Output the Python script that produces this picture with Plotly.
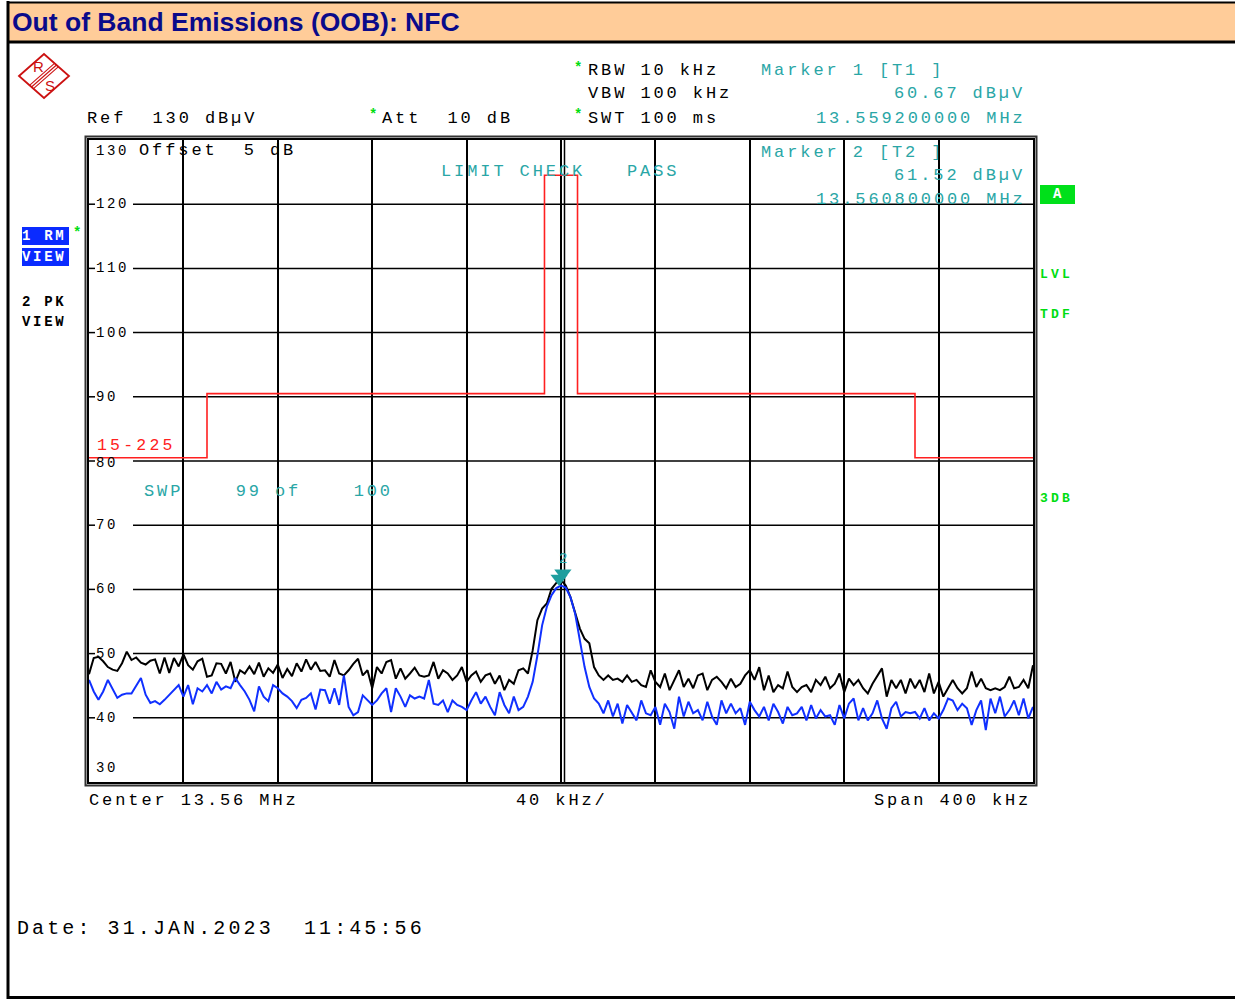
import json
import numpy as np
import plotly.graph_objects as go

# ---------------- data ----------------
F_START, F_STOP = 13.36, 13.76          # MHz (center 13.56, span 400 kHz)
LEVEL_MIN, LEVEL_MAX = 30, 130           # dBuV

# Trace 2 (PK, black) dBuV, 2 kHz steps
pk_trace = [
    46.8, 49.3, 49.5, 48.8, 47.9, 47.5, 47.3, 48.5, 50.3, 49.0,
    49.4, 48.6, 48.3, 48.9, 49.1, 46.9, 49.4, 47.0, 49.3, 48.0,
    49.9, 48.2, 47.5, 48.8, 49.2, 46.4, 46.6, 48.5, 48.4, 46.9,
    48.7, 45.6, 47.4, 46.9, 48.0, 46.8, 48.6, 46.4, 47.7, 47.0,
    48.3, 46.2, 47.6, 46.5, 48.5, 47.2, 49.1, 47.5, 48.7, 47.3,
    47.4, 46.4, 49.0, 46.9, 46.6, 47.4, 48.4, 49.2, 46.6, 47.4,
    44.6, 47.9, 46.9, 48.7, 49.0, 46.1, 47.7, 46.1, 46.9, 47.8,
    46.6, 46.4, 46.6, 48.7, 46.1, 47.4, 46.9, 45.9, 46.6, 47.9,
    45.6, 46.6, 47.2, 45.6, 46.6, 46.9, 45.3, 46.6, 44.3, 45.9,
    45.3, 47.4, 47.7, 46.9, 50.5, 55.2, 57.0, 57.8, 60.1, 61.0,
    61.5, 60.6, 58.8, 56.5, 53.9, 52.3, 51.6, 47.9, 46.6, 45.9,
    46.6, 45.9, 46.1, 45.6, 46.6, 45.6, 45.9, 45.1, 44.8, 47.4,
    45.6, 44.8, 46.9, 44.3, 45.9, 47.4, 44.8, 46.1, 44.6, 46.6,
    46.9, 44.3, 45.9, 46.4, 45.6, 44.6, 46.1, 44.8, 45.3, 46.6,
    47.4, 45.9, 47.9, 44.3, 46.6, 44.0, 45.1, 44.6, 47.2, 44.8,
    44.0, 44.8, 45.1, 44.0, 45.9, 45.1, 46.4, 44.6, 45.3, 46.9,
    44.0, 46.1, 45.1, 45.9, 44.6, 43.8, 45.3, 46.4, 47.7, 43.3,
    45.9, 44.6, 45.9, 43.8, 46.1, 44.6, 45.9, 44.0, 46.9, 43.8,
    45.6, 43.3, 44.6, 45.9, 44.6, 43.8, 44.6, 47.2, 44.8, 46.1,
    44.6, 44.3, 44.6, 44.3, 44.8, 46.4, 44.6, 44.8, 45.9, 44.6,
    48.2,
]

# Trace 1 (RM, blue) dBuV, 2 kHz steps
rm_trace = [
    45.9, 44.1, 42.8, 44.1, 45.9, 44.4, 43.1, 43.6, 43.8, 43.8,
    44.9, 46.2, 43.6, 42.3, 42.6, 42.1, 42.8, 43.6, 44.4, 45.1,
    43.3, 45.1, 42.1, 44.6, 44.1, 45.1, 43.8, 45.6, 44.4, 44.9,
    44.6, 46.2, 45.1, 44.1, 42.8, 41.0, 44.9, 43.3, 42.6, 45.1,
    44.6, 43.8, 43.3, 42.6, 41.5, 42.8, 43.1, 43.8, 41.3, 44.4,
    44.3, 42.2, 44.6, 42.0, 46.6, 41.7, 40.4, 40.9, 43.5, 42.7,
    42.0, 42.7, 43.8, 44.6, 40.9, 44.6, 43.3, 41.7, 43.5, 43.0,
    43.3, 43.0, 45.9, 42.2, 42.0, 42.7, 40.9, 42.7, 42.0, 41.7,
    41.2, 42.7, 44.0, 42.2, 43.3, 41.7, 40.4, 44.0, 42.0, 40.7,
    43.3, 41.2, 41.7, 43.3, 45.6, 49.7, 54.4, 57.3, 59.1, 60.2,
    60.6, 60.3, 58.8, 56.2, 51.8, 47.9, 44.8, 43.0, 42.2, 40.7,
    42.7, 40.2, 42.2, 39.1, 42.0, 40.9, 39.6, 42.7, 40.7, 40.4,
    41.7, 38.9, 42.2, 40.9, 38.3, 43.3, 40.2, 42.5, 40.7, 41.2,
    39.6, 42.5, 40.2, 38.9, 42.7, 40.7, 42.2, 40.7, 41.5, 38.9,
    42.5, 41.2, 40.2, 41.7, 39.6, 42.2, 40.9, 39.1, 41.7, 40.4,
    40.7, 41.7, 39.6, 42.0, 39.9, 41.2, 40.2, 40.4, 38.9, 42.0,
    39.9, 42.2, 43.0, 39.6, 41.5, 39.6, 40.7, 42.7, 39.9, 38.3,
    41.5, 42.5, 40.2, 40.9, 40.7, 40.9, 39.9, 41.5, 39.6, 40.7,
    39.9, 41.2, 43.0, 42.7, 41.2, 42.2, 41.5, 38.9, 41.2, 42.7,
    38.1, 43.0, 40.7, 43.3, 40.2, 41.2, 42.7, 40.4, 43.0, 39.9,
    41.7,
]

# Limit line "15-225"
limit_freq = [13.36, 13.41, 13.553, 13.567, 13.71, 13.76]
limit_level = [80.5, 90.5, 124.5, 90.5, 80.5, 80.5]

# Markers
marker_freq = [13.5592, 13.5608]
marker_level = [60.67, 61.52]
marker_names = ["1", "2"]

y_tick_values = [130, 120, 110, 100, 90, 80, 70, 60, 50, 40, 30]
y_tick_labels = ["130", "120", "110", "100", "90", "80", "70", "60", "50", "40", "30"]

freq = np.linspace(F_START, F_STOP, len(pk_trace))

# ---------------- layout constants ----------------
W, H = 1235, 1000
X0, X1, Y0, Y1 = 89, 1033, 140, 782     # plot area in pixels
MONO = "Liberation Mono"
SANS = "Liberation Sans"
TEAL = "#2AA6A6"
GREEN = "#00DD11"
RED = "#FF2020"
BLUE = "#0A2BFF"


def px(x, y):
    return x / W, 1 - y / H


def ypix(v):
    return Y1 - (v - LEVEL_MIN) * (Y1 - Y0) / (LEVEL_MAX - LEVEL_MIN)


def xdata(xp):
    return F_START + (xp - X0) * (F_STOP - F_START) / (X1 - X0)


annotations = []
spacing = []


def text(x, y, s, color="black", size=17, ls=2.9, family=MONO, bold=False,
         xanchor="left"):
    ax, ay = px(x, y)
    annotations.append(dict(
        x=ax, y=ay, xref="paper", yref="paper", text=s, showarrow=False,
        xanchor=xanchor, yanchor="middle", align="left", borderpad=0,
        borderwidth=0,
        font=dict(family=family, size=size, color=color,
                  weight="bold" if bold else "normal")))
    spacing.append(ls)


shapes = []


def rect(x0, y0, x1, y1, fill=None, line_color=None, lw=0, layer="above"):
    a0, b0 = px(x0, y0)
    a1, b1 = px(x1, y1)
    shapes.append(dict(type="rect", xref="paper", yref="paper",
                       x0=a0, y0=b0, x1=a1, y1=b1, layer=layer,
                       fillcolor=fill if fill else "rgba(0,0,0,0)",
                       line=dict(color=line_color if line_color else "rgba(0,0,0,0)",
                                 width=lw)))


def seg(x0, y0, x1, y1, color="black", lw=1, layer="above"):
    a0, b0 = px(x0, y0)
    a1, b1 = px(x1, y1)
    shapes.append(dict(type="line", xref="paper", yref="paper",
                       x0=a0, y0=b0, x1=a1, y1=b1, layer=layer,
                       line=dict(color=color, width=lw)))


def path(points, color, lw, fill=None):
    d = ""
    for k, (x, y) in enumerate(points):
        a, b = px(x, y)
        d += ("M" if k == 0 else "L") + f"{a:.5f},{b:.5f} "
    d += "Z"
    shapes.append(dict(type="path", xref="paper", yref="paper", path=d,
                       fillcolor=fill if fill else "rgba(0,0,0,0)",
                       line=dict(color=color, width=lw)))


# ---------------- figure ----------------
fig = go.Figure()

fig.add_trace(go.Scatter(x=limit_freq, y=limit_level, mode="lines",
                         line=dict(color=RED, width=1.6, shape="hv"),
                         hoverinfo="skip"))
fig.add_trace(go.Scatter(x=freq, y=pk_trace, mode="lines",
                         line=dict(color="black", width=2), name="2 PK"))
fig.add_trace(go.Scatter(x=freq, y=rm_trace, mode="lines",
                         line=dict(color="#1030FF", width=2), name="1 RM"))
tri_offset = (LEVEL_MAX - LEVEL_MIN) * 6.5 / (Y1 - Y0)
fig.add_trace(go.Scatter(x=marker_freq,
                         y=[v + tri_offset for v in marker_level],
                         mode="markers",
                         marker=dict(symbol="triangle-down", size=15,
                                     color="#1E9E9E"),
                         hoverinfo="skip"))

# page frame and title band
rect(7, 2, 1235, 42, fill="#FFCC99")
seg(7, 2.5, 1235, 2.5, lw=2)
seg(7, 42, 1235, 42, lw=3)
seg(8, 1, 8, 999, lw=3)
seg(7, 997.5, 1235, 997.5, lw=3)
text(12, 22, "Out of Band Emissions (OOB): NFC", color="#0A0A8A", size=26.5,
     ls=0, family=SANS, bold=True)

# plot outer frame
rect(85.5, 136.5, 1036.5, 785.5, line_color="#333333", lw=2)

# second center line (double line at center)
cx_off = (F_STOP - F_START) * 3.5 / (X1 - X0)
shapes.append(dict(type="line", xref="x", yref="y",
                   x0=(F_START + F_STOP) / 2 + cx_off, x1=(F_START + F_STOP) / 2 + cx_off,
                   y0=LEVEL_MIN, y1=LEVEL_MAX, layer="below",
                   line=dict(color="black", width=1.5)))

# horizontal grid lines, interrupted by the level labels
for v in y_tick_values[1:-1]:
    for xa, xb in ((X0, 95), (133, X1)):
        shapes.append(dict(type="line", xref="x", yref="y",
                           x0=xdata(xa), x1=xdata(xb), y0=v, y1=v, layer="below",
                           line=dict(color="black", width=1.5)))

# level labels
for v, lab in zip(y_tick_values, y_tick_labels):
    yc = ypix(v)
    if v == LEVEL_MAX:
        yc += 11
    elif v == LEVEL_MIN:
        yc -= 14
    elif v == 80:
        yc += 2
    text(96, yc, lab, size=14, ls=2.6)

# R&S logo
path([(19, 76), (44, 54), (69, 76), (44, 98)], "#CC1111", 1.8)
for off in (-2.6, 0, 2.6):
    seg(31.5 + off * 0.66, 87 + off * 0.75, 56.5 + off * 0.66, 65 + off * 0.75,
        color="#CC1111", lw=1.1)
text(38, 67, "R", color="#CC1111", size=15, ls=0, family=SANS, xanchor="center")
text(50, 86, "S", color="#CC1111", size=15, ls=0, family=SANS, xanchor="center")

# header texts
text(87, 118, "Ref  130 dBµV")
text(382, 118, "Att  10 dB")
text(588, 71, "RBW 10 kHz")
text(588, 94, "VBW 100 kHz")
text(588, 118, "SWT 100 ms")
for (ax_, ay_) in [(578, 68), (373, 115), (578, 115), (77, 233)]:
    text(ax_, ay_, "*", color=GREEN, size=14, ls=0, bold=True, xanchor="center")

text(761, 71, "Marker 1 [T1 ]", color=TEAL)
text(894, 94, "60.67 dBµV", color=TEAL)
text(816, 118, "13.559200000 MHz", color=TEAL)
text(761, 152, "Marker 2 [T2 ]", color=TEAL)
text(894, 176, "61.52 dBµV", color=TEAL)
text(816, 199, "13.560800000 MHz", color=TEAL)

text(139, 150, "Offset  5 dB")
text(441, 172, "LIMIT CHECK", color=TEAL)
text(627, 172, "PASS", color=TEAL)
text(97, 445, "15-225", color=RED, size=16.5, ls=3.2)
text(144, 491, "SWP    99 of    100", color=TEAL)

# marker label
mx_pix = X0 + (marker_freq[1] - F_START) / (F_STOP - F_START) * (X1 - X0)
text(mx_pix, ypix(marker_level[1]) - 21, marker_names[1], color=TEAL, size=14,
     ls=0, xanchor="center")

# left side trace labels
rect(22, 227, 69, 245, fill=BLUE)
rect(22, 248, 69, 266, fill=BLUE)
text(22, 236, "1 RM", color="white", size=14, ls=2.7, bold=True)
text(22, 257, "VIEW", color="white", size=14, ls=2.7, bold=True)
text(22, 302, "2 PK", color="black", size=14, ls=2.7, bold=True)
text(22, 322, "VIEW", color="black", size=14, ls=2.7, bold=True)

# right side indicators
rect(1040, 185, 1075, 204, fill="#00E01A")
text(1057, 194, "A", color="white", size=14, ls=0, bold=True, xanchor="center")
text(1040, 274, "LVL", color=GREEN, size=13, ls=3.2, bold=True)
text(1040, 315, "TDF", color=GREEN, size=13, ls=3.2, bold=True)
text(1040, 498, "3DB", color=GREEN, size=13, ls=3.2, bold=True)

# bottom texts
text(89, 800, "Center 13.56 MHz")
text(516, 800, "40 kHz/")
text(874, 800, "Span 400 kHz")
text(17, 928, "Date: 31.JAN.2023  11:45:56", size=20, ls=3.1)

fig.update_layout(
    width=W, height=H, margin=dict(l=0, r=0, t=0, b=0),
    paper_bgcolor="white", plot_bgcolor="white", showlegend=False,
    xaxis=dict(domain=[X0 / W, X1 / W], range=[F_START, F_STOP],
               tick0=F_START, dtick=(F_STOP - F_START) / 10,
               showgrid=True, gridcolor="black", gridwidth=1.5,
               showticklabels=False, ticks="", zeroline=False,
               showline=True, linecolor="black", linewidth=1.5, mirror=True),
    yaxis=dict(domain=[1 - Y1 / H, 1 - Y0 / H], range=[LEVEL_MIN, LEVEL_MAX],
               tick0=LEVEL_MIN, dtick=10,
               showgrid=False,
               showticklabels=False, ticks="", zeroline=False,
               showline=True, linecolor="black", linewidth=1.5, mirror=True),
    annotations=annotations,
    shapes=shapes,
)

js = """
document.body.style.margin = '0';
var LS = %s;
document.querySelectorAll('g.annotation').forEach(function(g){
  var i = parseInt(g.getAttribute('data-index'));
  var v = LS[i];
  if (v) {
    g.querySelectorAll('text').forEach(function(t){ t.style.letterSpacing = v + 'px'; });
  }
});
""" % json.dumps(spacing)

fig.write_html("out.html", config={"displayModeBar": False}, post_script=js)
